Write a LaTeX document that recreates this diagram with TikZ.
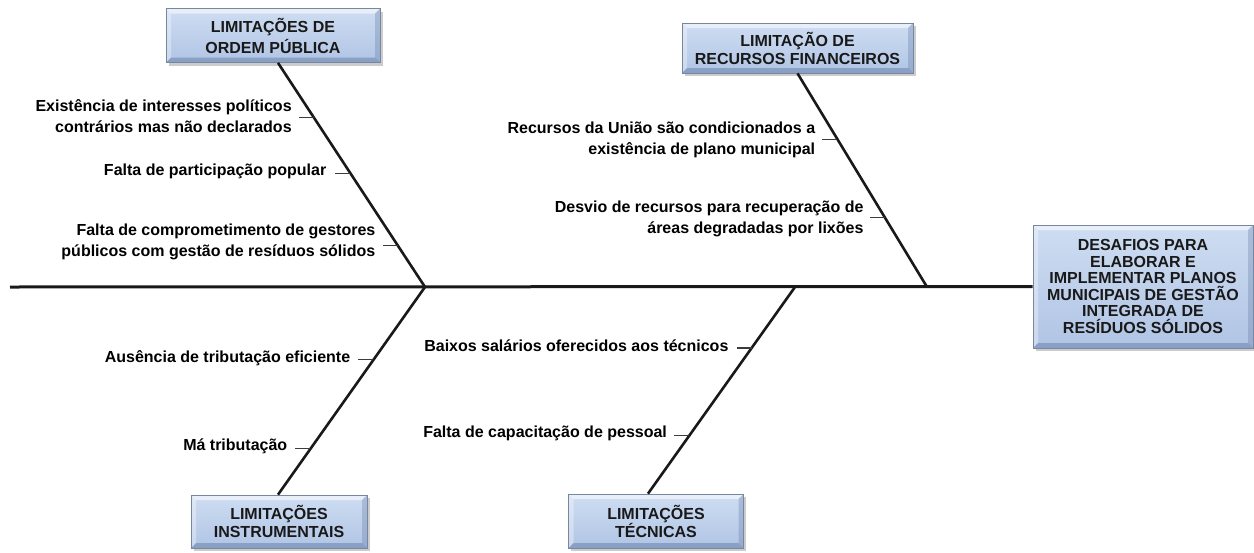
\documentclass[tikz,border=0pt]{standalone}
\usepackage{fontspec}
\setmainfont{Liberation Sans}
\usetikzlibrary{shadows,calc}
\definecolor{boxtop}{RGB}{206,221,242}
\definecolor{boxbot}{RGB}{176,196,228}
\definecolor{boxedge}{RGB}{120,135,160}
\definecolor{bevdark}{RGB}{90,115,160}
\definecolor{ink}{RGB}{25,25,25}
\tikzset{
  catbox/.style={draw=boxedge, line width=0.7pt, rectangle, inner sep=0pt,
    top color=boxtop, bottom color=boxbot, align=center, text=ink,
    font=\bfseries\fontsize{16}{18}\selectfont,
    drop shadow={shadow xshift=2.5pt, shadow yshift=-3pt, opacity=0.4},
    path picture={
      \coordinate (pNW) at (path picture bounding box.north west);
      \coordinate (pNE) at (path picture bounding box.north east);
      \coordinate (pSW) at (path picture bounding box.south west);
      \coordinate (pSE) at (path picture bounding box.south east);
      \fill[white,opacity=0.55] (pNW) -- (pNE) -- ([xshift=-5pt,yshift=-5pt]pNE) -- ([xshift=5pt,yshift=-5pt]pNW) -- cycle;
      \fill[white,opacity=0.35] (pNW) -- (pSW) -- ([xshift=5pt,yshift=5pt]pSW) -- ([xshift=5pt,yshift=-5pt]pNW) -- cycle;
      \fill[bevdark,opacity=0.45] (pSW) -- (pSE) -- ([xshift=-5pt,yshift=5pt]pSE) -- ([xshift=5pt,yshift=5pt]pSW) -- cycle;
      \fill[bevdark,opacity=0.3] (pNE) -- (pSE) -- ([xshift=-5pt,yshift=5pt]pSE) -- ([xshift=-5pt,yshift=-5pt]pNE) -- cycle;
    }},
  bone/.style={draw=ink, line width=2.6pt},
  spine/.style={draw=ink, line width=3pt},
  tickline/.style={draw=ink!85, line width=1.1pt},
  lbl/.style={anchor=east, inner sep=0pt, align=right, text=black,
    font=\bfseries\fontsize{16}{21}\selectfont}
}
\begin{document}
\begin{tikzpicture}[x=1pt,y=-1pt]
\useasboundingbox (0,0) rectangle (1254,552);

% category boxes
\node[catbox, minimum width=214pt, minimum height=54pt, font=\bfseries\fontsize{16}{21}\selectfont] (box1) at (273,35.5) {LIMITAÇÕES DE\\ORDEM PÚBLICA};
\node[catbox, minimum width=231pt, minimum height=50pt] (box2) at (797.5,48) {LIMITAÇÃO DE\\RECURSOS FINANCEIROS};
\node[catbox, minimum width=176pt, minimum height=53pt] (box3) at (279,521.5) {LIMITAÇÕES\\INSTRUMENTAIS};
\node[catbox, minimum width=175pt, minimum height=54pt] (box4) at (656,521) {LIMITAÇÕES\\TÉCNICAS};
\node[catbox, minimum width=220pt, minimum height=123pt, font=\bfseries\fontsize{16}{16.6}\selectfont] (main) at (1143,286.5)
  {DESAFIOS PARA\\ELABORAR E\\IMPLEMENTAR PLANOS\\MUNICIPAIS DE GESTÃO\\INTEGRADA DE\\RESÍDUOS SÓLIDOS};

% spine and junctions
\coordinate (tail) at (10,287);
\coordinate (j1) at (425,287);
\coordinate (j2) at (927,287);
\coordinate (j4) at (795,287);
\draw[spine] (tail) -- (main.west);

% bones
\draw[bone] ([xshift=5pt]box1.south) -- (j1);
\draw[bone] (box2.south) -- (j2);
\draw[bone] (j1) -- ([xshift=-1pt]box3.north);
\draw[bone] (j4) -- ([xshift=-8pt]box4.north);

% tick positions on bones
\path ([xshift=5pt]box1.south) -- (j1) coordinate[pos=0.244] (t11) coordinate[pos=0.493] (t12) coordinate[pos=0.813] (t13);
\path (box2.south) -- (j2) coordinate[pos=0.308] (t21) coordinate[pos=0.673] (t22);
\path (j1) -- ([xshift=-1pt]box3.north) coordinate[pos=0.351] (t31) coordinate[pos=0.779] (t32);
\path (j4) -- ([xshift=-8pt]box4.north) coordinate[pos=0.295] (t41) coordinate[pos=0.720] (t42);

% ticks
\foreach \t in {t11,t12,t13,t21,t22,t31,t32,t41,t42}
  \draw[tickline] (\t) -- ++(-15,0);

% labels
\node[lbl] (l11) at ([xshift=-22pt,yshift=1pt]t11) {Existência de interesses políticos\\contrários mas não declarados};
\node[lbl] (l12) at ([xshift=-24pt,yshift=2pt]t12) {Falta de participação popular};
\node[lbl] (l13) at ([xshift=-22pt,yshift=3pt]t13) {Falta de comprometimento de gestores\\públicos com gestão de resíduos sólidos};
\node[lbl] (l21) at ([xshift=-22pt,yshift=-1pt]t21) {Recursos da União são condicionados a\\existência de plano municipal};
\node[lbl] (l22) at ([xshift=-21pt,yshift=-2pt]t22) {Desvio de recursos para recuperação de\\áreas degradadas por lixões};
\node[lbl] (l31) at ([xshift=-23pt,yshift=2pt]t31) {Ausência de tributação eficiente};
\node[lbl] (l32) at ([xshift=-23pt,yshift=2pt]t32) {Má tributação};
\node[lbl] (l41) at ([xshift=-23pt,yshift=2pt]t41) {Baixos salários oferecidos aos técnicos};
\node[lbl] (l42) at ([xshift=-22pt,yshift=2pt]t42) {Falta de capacitação de pessoal};
\end{tikzpicture}
\end{document}
